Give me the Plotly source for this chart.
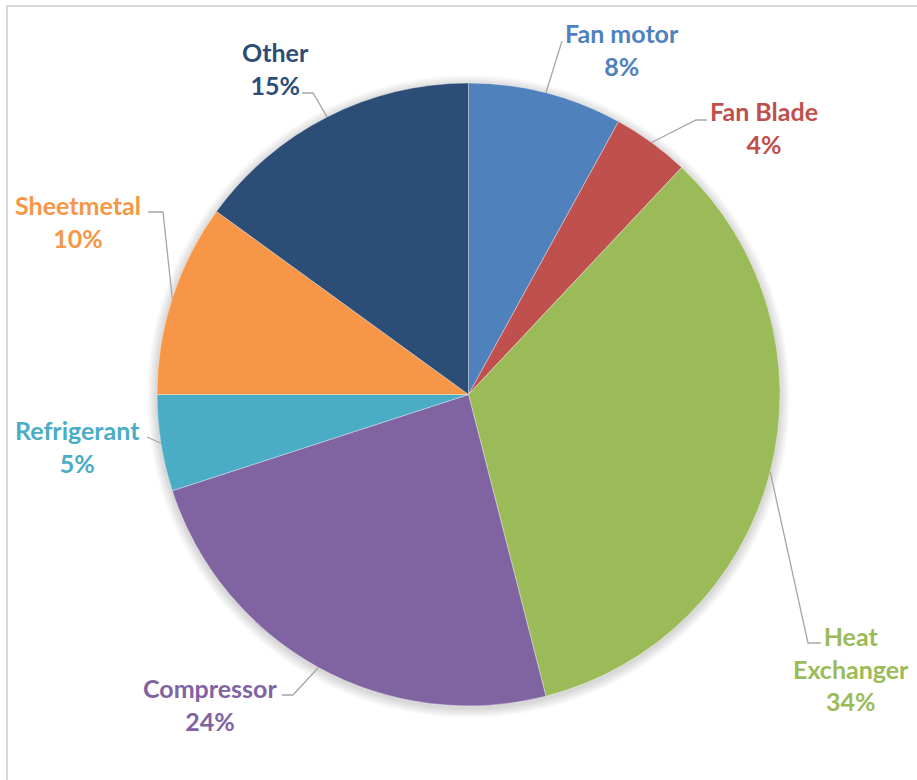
import math
import plotly.graph_objects as go

# Share of each component (percent), clockwise from 12 o'clock
components = ["Fan motor", "Fan Blade", "Heat Exchanger", "Compressor",
              "Refrigerant", "Sheetmetal", "Other"]
shares = [8, 4, 34, 24, 5, 10, 15]
label_texts = ["Fan motor", "Fan Blade", "Heat<br>Exchanger", "Compressor",
               "Refrigerant", "Sheetmetal", "Other"]
colors = ["#4F81BD", "#C0504D", "#9BBB59", "#8064A2",
          "#4BACC6", "#F79646", "#2C4D75"]

W, H = 917, 780
CX, CY, R = 468.5, 394.5, 311.5          # pie centre / radius in pixels

# label block centre (px) and leader-line elbow points (px) per component
label_pos = [(622, 49), (764, 128), (851, 668), (210, 704),
             (77, 446), (78, 221), (275, 68)]
elbows = [[(562, 41)],
          [(696, 120), (707, 120)],
          [(808, 643), (821, 643)],
          [(293, 695), (282, 695)],
          [(147, 437)],
          [(163, 212), (148, 212)],
          [(313, 93), (302, 93)]]


def px(x, y):
    return x / W, 1 - y / H


fig = go.Figure()

fig.add_trace(go.Pie(
    labels=components,
    values=shares,
    sort=False,
    direction="clockwise",
    rotation=0,
    marker=dict(colors=colors, line=dict(color="rgba(255,255,255,0.45)", width=0.8)),
    textinfo="none",
    hoverinfo="label+percent",
    showlegend=False,
    domain=dict(x=[(CX - R) / W, (CX + R) / W],
                y=[1 - (CY + R) / H, 1 - (CY - R) / H]),
))

shapes = []

# outer frame of the chart area
shapes.append(dict(type="rect", xref="paper", yref="paper",
                   x0=7 / W, y0=-0.02, x1=1.02, y1=1 - 6 / H,
                   line=dict(color="#D9D9D9", width=2), fillcolor="rgba(0,0,0,0)",
                   layer="below"))

# soft shadow around the pie
for k in range(1, 11):
    shapes.append(dict(type="circle", xref="paper", yref="paper",
                       xsizemode="pixel", ysizemode="pixel",
                       xanchor=CX / W, yanchor=1 - (CY + 2) / H,
                       x0=-(R + k), x1=R + k, y0=-(R + k), y1=R + k,
                       line=dict(width=0), fillcolor="rgba(0,0,0,0.016)",
                       layer="below"))

# leader lines from slice midpoints to labels
total = sum(shares)
cum = 0
annotations = []
for i, v in enumerate(shares):
    mid = (cum + v / 2) / total * 2 * math.pi
    cum += v
    sx = CX + R * math.sin(mid)
    sy = CY - R * math.cos(mid)
    pts = [(sx, sy)] + elbows[i]
    path = ""
    for j, (x, y) in enumerate(pts):
        ux, uy = px(x, y)
        path += ("M" if j == 0 else " L") + f"{ux:.5f},{uy:.5f}"
    shapes.append(dict(type="path", xref="paper", yref="paper", path=path,
                       line=dict(color="#A6A6A6", width=1.3)))

    lx, ly = px(*label_pos[i])
    annotations.append(dict(
        x=lx, y=ly, xref="paper", yref="paper",
        text=f"{label_texts[i]}<br>{v}%",
        showarrow=False, xanchor="center", yanchor="middle", align="center",
        font=dict(family="Lato", size=25, color=colors[i], weight="bold"),
    ))

fig.update_layout(
    width=W, height=H,
    margin=dict(l=0, r=0, t=0, b=0),
    paper_bgcolor="white",
    plot_bgcolor="white",
    shapes=shapes,
    annotations=annotations,
)

fig.write_html("out.html")
